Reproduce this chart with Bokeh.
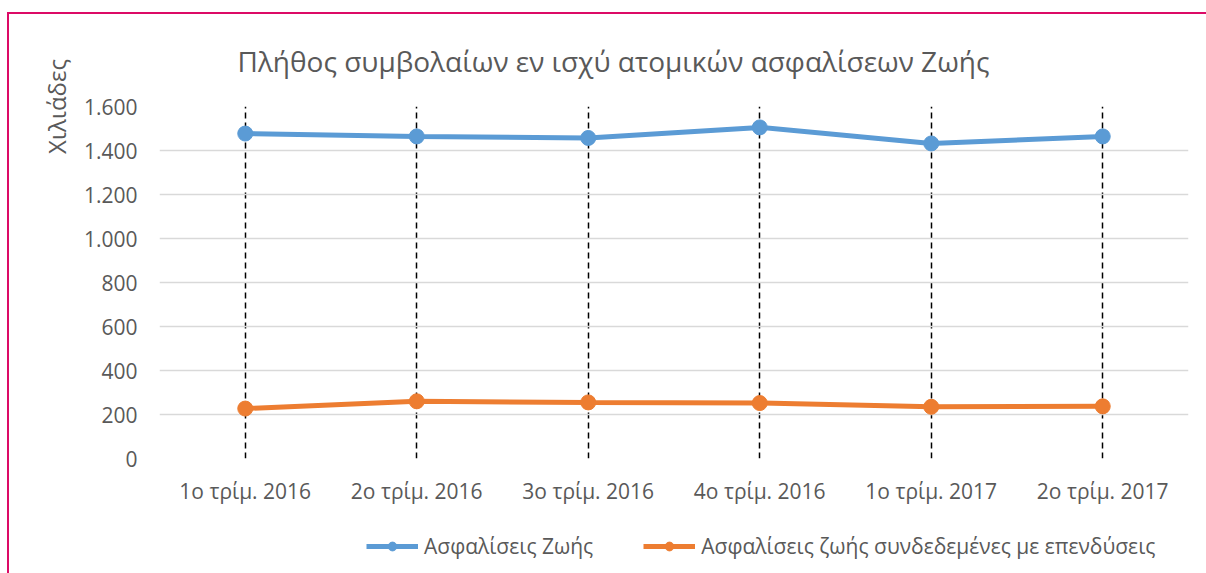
from bokeh.plotting import figure
from bokeh.layouts import column
from bokeh.models import (FactorRange, Range1d, FixedTicker, Legend, LegendItem)
from bokeh.embed import file_html
from bokeh.resources import INLINE

quarters = ["1ο τρίμ. 2016", "2ο τρίμ. 2016", "3ο τρίμ. 2016",
            "4ο τρίμ. 2016", "1ο τρίμ. 2017", "2ο τρίμ. 2017"]
life = [1477, 1464, 1457, 1505, 1432, 1464]
unit_linked = [227, 260, 255, 252, 235, 237]
yticks = [0, 200, 400, 600, 800, 1000, 1200, 1400, 1600]
ytick_labels = ["0", "200", "400", "600", "800", "1.000", "1.200", "1.400", "1.600"]
series_names = ["Ασφαλίσεις Ζωής", "Ασφαλίσεις ζωής συνδεδεμένες με επενδύσεις"]
title_text = "Πλήθος συμβολαίων εν ισχύ ατομικών ασφαλίσεων Ζωής"
ylabel_text = "Χιλιάδες"

FONT = "Open Sans"
TXT = "#595959"
BLUE = "#5B9BD5"
ORANGE = "#ED7D31"
PINK = "#DC0A66"

# ---------------- main chart ----------------
p = figure(x_range=FactorRange(factors=quarters, range_padding=0),
           y_range=Range1d(0, 1600),
           width=1197, height=500, frame_width=1029, frame_height=352,
           output_backend="svg", toolbar_location=None,
           min_border_left=150, min_border_right=18, min_border_top=90,
           min_border_bottom=58)
p.outline_line_color = None
p.background_fill_color = "white"
p.border_fill_color = "white"

p.title.text = title_text
p.title.align = "left"
p.title.offset = 78
p.title.vertical_align = "middle"
p.title.text_font = FONT
p.title.text_font_size = "28px"
p.title.text_font_style = "normal"
p.title.text_color = TXT
p.title.standoff = 52

p.yaxis.ticker = FixedTicker(ticks=yticks)
p.yaxis.major_label_overrides = dict(zip(yticks, ytick_labels))
for ax in (p.xaxis[0], p.yaxis[0]):
    ax.axis_line_color = None
    ax.major_tick_line_color = None
    ax.minor_tick_line_color = None
    ax.major_tick_out = 0
    ax.major_tick_in = 0
    ax.minor_tick_out = 0
    ax.minor_tick_in = 0
    ax.major_label_text_font = FONT
    ax.major_label_text_font_size = "21px"
    ax.major_label_text_color = TXT
p.yaxis.major_label_standoff = 22
p.xaxis.major_label_standoff = 18

yax = p.yaxis[0]
yax.axis_label = ylabel_text
yax.axis_label_text_font = FONT
yax.axis_label_text_font_size = "24px"
yax.axis_label_text_font_style = "normal"
yax.axis_label_text_color = TXT
yax.axis_label_standoff = 8
try:
    yax.axis_label_align = "end"
except Exception:
    pass

p.ygrid.grid_line_color = "#D9D9D9"
p.ygrid.grid_line_width = 1.5
p.xgrid.grid_line_color = "black"
p.xgrid.grid_line_dash = "6 4"
p.xgrid.grid_line_width = 1.5

p.line(quarters, life, line_color=BLUE, line_width=5)
p.scatter(quarters, life, size=15, fill_color=BLUE, line_color=BLUE)
p.line(quarters, unit_linked, line_color=ORANGE, line_width=5)
p.scatter(quarters, unit_linked, size=15, fill_color=ORANGE, line_color=ORANGE)

# ---------------- legend strip ----------------
leg = figure(x_range=FactorRange(factors=quarters, range_padding=0),
             y_range=Range1d(-2, -1),
             width=1197, height=59, output_backend="svg", toolbar_location=None,
             x_axis_location=None, y_axis_location=None,
             min_border_left=0, min_border_right=0, min_border_top=0,
             min_border_bottom=0)
leg.outline_line_color = None
leg.grid.grid_line_color = None
leg.background_fill_color = "white"
leg.border_fill_color = "white"

k1 = leg.line(quarters, life, line_color=BLUE, line_width=5)
c1 = leg.scatter(quarters, life, size=13, fill_color=BLUE, line_color=BLUE)
k2 = leg.line(quarters, unit_linked, line_color=ORANGE, line_width=5)
c2 = leg.scatter(quarters, unit_linked, size=13, fill_color=ORANGE, line_color=ORANGE)

legend = Legend(items=[LegendItem(label=series_names[0], renderers=[k1, c1]),
                       LegendItem(label=series_names[1], renderers=[k2, c2])],
                orientation="horizontal", location=(207, 15),
                label_text_font=FONT, label_text_font_size="21px",
                label_text_color=TXT, glyph_width=52, glyph_height=22,
                label_standoff=6, spacing=50, border_line_color=None,
                background_fill_alpha=0, margin=0, padding=0)
leg.add_layout(legend, "center")

layout = column(p, leg, spacing=0,
                styles={"margin-left": "7px", "margin-top": "12px",
                        "border-left": f"2px solid {PINK}",
                        "border-top": f"2px solid {PINK}"})

open("out.html", "w").write(file_html(layout, INLINE))
